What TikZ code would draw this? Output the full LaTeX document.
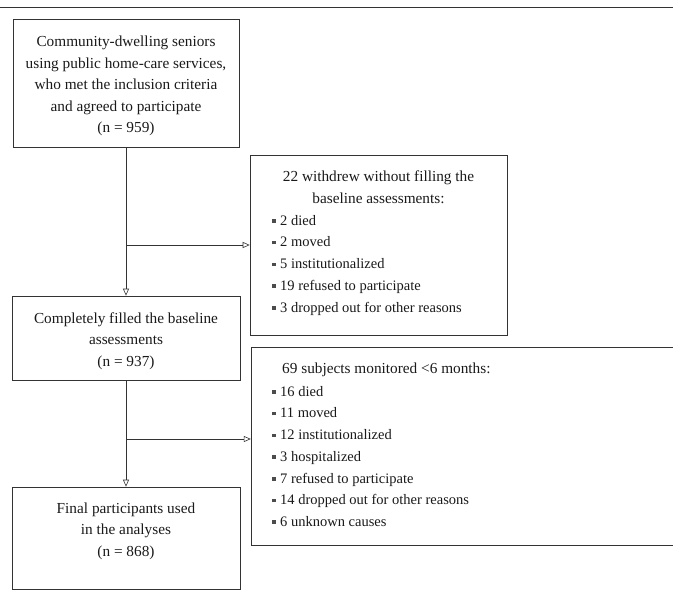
\documentclass[tikz,border=0pt]{standalone}
\usepackage{fontspec}
\setmainfont{Liberation Serif}
\usetikzlibrary{arrows.meta}
\newcommand{\bul}{\textcolor{black!70}{\rule[2.5pt]{3.5pt}{3.5pt}}\hspace{4.5pt}}
\begin{document}
\begin{tikzpicture}[x=1pt,y=-1pt,
  line/.style={draw=black!80, line width=0.6pt},
  box/.style={line, inner sep=0pt},
  txt/.style={font=\fontsize{15.3}{21.5}\selectfont, text=black!90, inner sep=0pt},
  lst/.style={font=\fontsize{14.5}{21.7}\selectfont, text=black!90, inner sep=0pt, align=left, anchor=north west},
  arr/.style={line, -{Triangle[open,length=7pt,width=6pt]}}]
\useasboundingbox (0,0) rectangle (673,590);
\coordinate (r1) at (0,7);
\coordinate (r2) at (673,7);
\draw[line] (r1) -- (r2);
% box 1
\node[box, minimum width=226pt, minimum height=128pt] (b1) at (126,83.5) {};
\node[txt, align=center] (t1) at (126,86) {Community-dwelling seniors\\using public home-care services,\\who met the inclusion criteria\\and agreed to participate\\(n = 959)};
% box 2
\node[box, minimum width=257pt, minimum height=180pt] (b2) at (378.5,245) {};
\node[txt, align=center, anchor=north] (t2) at (378.5,171) {22 withdrew without filling the\\baseline assessments:};
\node[lst] (l2) at (272,215) {\bul 2 died\\\bul 2 moved\\\bul 5 institutionalized\\\bul 19 refused to participate\\\bul 3 dropped out for other reasons};
% box 3
\node[box, minimum width=228pt, minimum height=84pt] (b3) at (126,338) {};
\node[txt, align=center] (t3) at (126,341) {Completely filled the baseline\\assessments\\(n = 937)};
% box 4 (open on the right)
\node[inner sep=0pt, minimum width=422pt, minimum height=198pt] (b4) at (462,446) {};
\draw[line] (b4.north east) -- (b4.north west) -- (b4.south west) -- (b4.south east);
\node[txt, anchor=north west] (t4) at (282,363) {69 subjects monitored <6 months:};
\node[lst] (l4) at (272,386) {\bul 16 died\\\bul 11 moved\\\bul 12 institutionalized\\\bul 3 hospitalized\\\bul 7 refused to participate\\\bul 14 dropped out for other reasons\\\bul 6 unknown causes};
% box 5
\node[box, minimum width=228pt, minimum height=102pt] (b5) at (126,538) {};
\node[txt, align=center] (t5) at (126,531) {Final participants used\\in the analyses\\(n = 868)};
% connectors
\coordinate (j1) at (126,245);
\coordinate (j2) at (126,439);
\draw[arr] (b1.south) -- (b3.north);
\draw[arr] (j1) -- (j1 -| b2.west);
\draw[arr] (b3.south) -- (b5.north);
\draw[arr] (j2) -- (j2 -| b4.west);
\end{tikzpicture}
\end{document}
